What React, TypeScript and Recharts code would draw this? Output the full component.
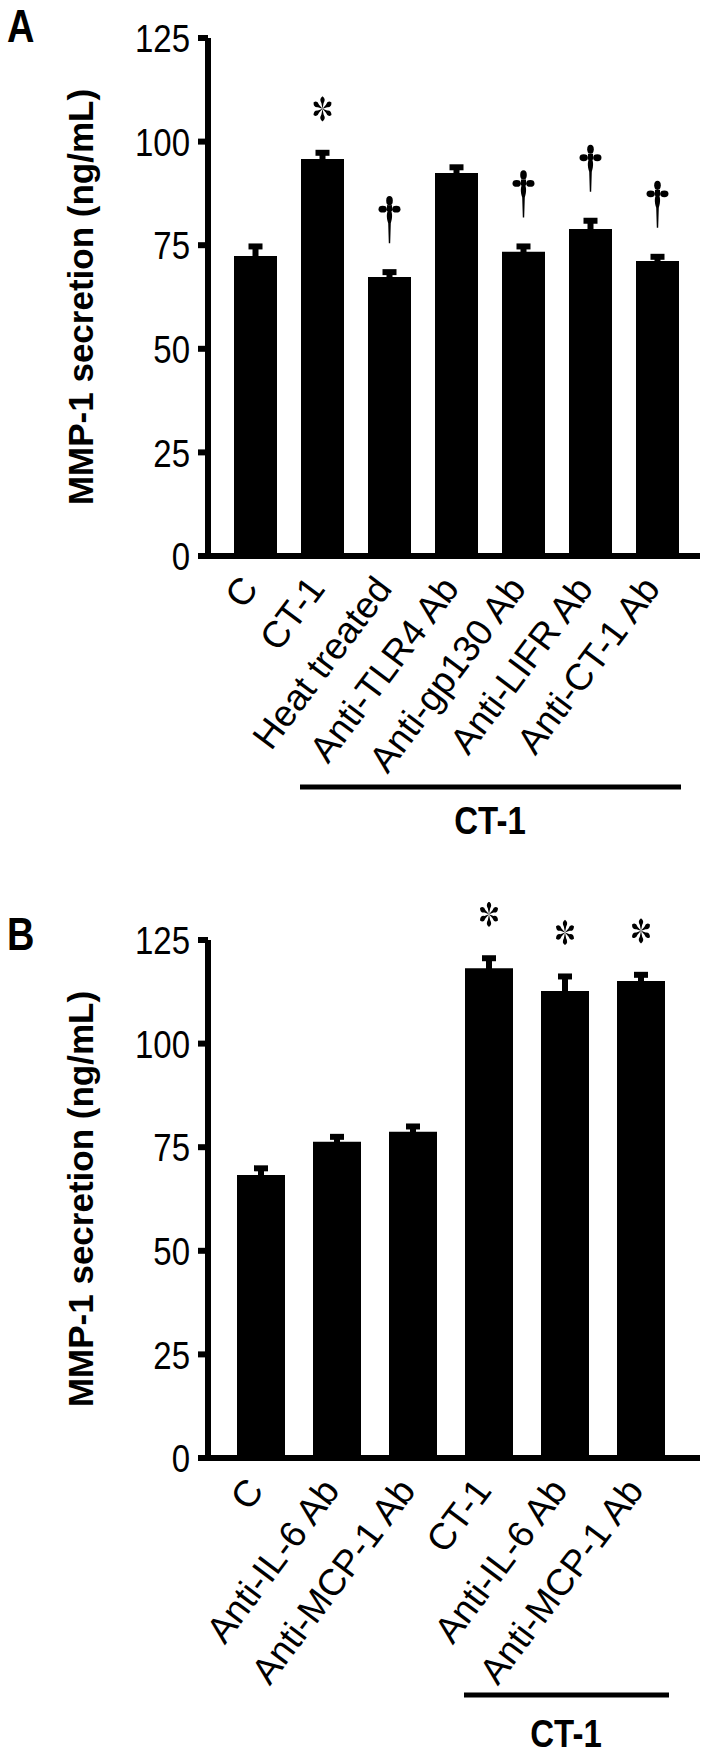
import React from "react";
import { BarChart, Bar, XAxis, YAxis, ErrorBar, LabelList } from "recharts";

const FONT = "'Liberation Sans', Arial, Helvetica, sans-serif";
const SY = 1.2; // upright texts in the original look tall and narrow

// panel A
const catsA = ["C", "CT-1", "Heat treated", "Anti-TLR4 Ab", "Anti-gp130 Ab", "Anti-LIFR Ab", "Anti-CT-1 Ab"];
const meanA = [72.4, 95.8, 67.3, 92.4, 73.4, 78.9, 71.2];
const semA = [2.3, 1.5, 1.2, 1.4, 1.3, 2.0, 1.0];
const sigA = ["", "*", "†", "", "†", "†", "†"];

// panel B
const catsB = ["C", "Anti-IL-6 Ab", "Anti-MCP-1 Ab", "CT-1", "Anti-IL-6 Ab", "Anti-MCP-1 Ab"];
const meanB = [68.3, 76.3, 78.7, 118.2, 112.7, 115.1];
const semB = [1.6, 1.2, 1.3, 2.4, 3.5, 1.5];
const sigB = ["", "", "", "*", "*", "*"];

const yTicks = [0, 25, 50, 75, 100, 125];
const groupLabel = "CT-1";
const yTitle = "MMP-1 secretion (ng/mL)";

const ERR_W = 6;

function Asterisk({ cx, cy, r }: { cx: number; cy: number; r: number }) {
  const w = r * 0.36;
  const d = `M0,0 L${-w * 0.3},${-r * 0.45} Q${-w},${-r * 0.8} 0,${-r} Q${w},${-r * 0.8} ${w * 0.3},${-r * 0.45} Z`;
  return (
    <g transform={`translate(${cx},${cy}) scale(0.9,1.1)`} fill="#000">
      {[0, 60, 120, 180, 240, 300].map((a) => (
        <path key={a} d={d} transform={`rotate(${a})`} />
      ))}
    </g>
  );
}

function Dagger({ cx, bottom }: { cx: number; bottom: number }) {
  const c = bottom - 34;
  return (
    <g transform={`translate(${cx},${c})`} fill="#000">
      <ellipse cx={0} cy={-8.5} rx={3.3} ry={4.6} />
      <ellipse cx={-6.8} cy={0} rx={4.2} ry={3.4} />
      <ellipse cx={6.8} cy={0} rx={4.2} ry={3.4} />
      <rect x={-2.5} y={-4} width={5} height={6} />
      <path d="M0,-2 C3.3,3 3.2,8 1.3,14 L0.7,34 L-0.7,34 L-1.3,14 C-3.2,8 -3.3,3 0,-2 Z" />
    </g>
  );
}

// marker sits above the error cap; px/unit comes from the bar's own height
const renderMark = (p: any) => {
  const { x, y, width, height, value } = p;
  if (!value) return null;
  const [mark, err, v] = String(value).split("|");
  const k = Number(height) / Number(v);
  const capTop = Number(y) - Number(err) * k - ERR_W / 2;
  const cx = Number(x) + Number(width) / 2;
  if (mark === "*") return <Asterisk cx={cx} cy={capTop - 41} r={11.5} />;
  if (mark === "†") return <Dagger cx={cx} bottom={capTop - 26} />;
  return null;
};

const makeTick = (labels: string[]) => (props: any) => {
  const { x, y, payload } = props;
  const px = x + 4;
  const py = y + 33;
  return (
    <text
      transform={`translate(${px},${py}) rotate(-53)`}
      textAnchor="end"
      fontSize={37}
      fontFamily={FONT}
      fill="#000"
    >
      {labels[payload.index]}
    </text>
  );
};

const yTick = (props: any) => {
  const { x, y, payload } = props;
  return (
    <text
      transform={`translate(${x},${y}) scale(1,${SY})`}
      dy="0.36em"
      textAnchor="end"
      fontSize={33}
      fontFamily={FONT}
      fill="#000"
    >
      {payload.value}
    </text>
  );
};

function Panel({
  cats,
  mean,
  sem,
  sig,
  height,
  pad,
  barSize,
}: {
  cats: string[];
  mean: number[];
  sem: number[];
  sig: string[];
  height: number;
  pad: { left: number; right: number };
  barSize: number;
}) {
  const rows = cats.map((c, i) => ({
    key: `c${i}`,
    value: mean[i],
    err: sem[i],
    tag: sig[i] ? `${sig[i]}|${sem[i]}|${mean[i]}` : null,
  }));
  return (
    <BarChart
      width={714}
      height={height}
      data={rows}
      margin={{ top: 38, right: 14, bottom: 0, left: 0 }}
    >
      <XAxis
        dataKey="key"
        interval={0}
        height={height - 556}
        padding={pad}
        tickLine={false}
        tickSize={0}
        tickMargin={0}
        axisLine={{ stroke: "#000", strokeWidth: 6 }}
        tick={makeTick(cats)}
      />
      <YAxis
        width={208}
        domain={[0, 125]}
        ticks={yTicks}
        interval={0}
        tickSize={10}
        tickMargin={8}
        axisLine={{ stroke: "#000", strokeWidth: 6 }}
        tickLine={{ stroke: "#000", strokeWidth: 6 }}
        tick={yTick}
      />
      <Bar dataKey="value" fill="#000" barSize={barSize} isAnimationActive={false}>
        <ErrorBar
          dataKey="err"
          direction="y"
          width={7}
          stroke="#000"
          strokeWidth={ERR_W}
          isAnimationActive={false}
        />
        <LabelList dataKey="tag" content={renderMark} />
      </Bar>
    </BarChart>
  );
}

const txt = { fontFamily: FONT, fill: "#000" } as const;

function Stretched({ x, y, size, anchor, children }: any) {
  return (
    <text
      transform={`translate(${x},${y}) scale(1,${SY})`}
      textAnchor={anchor || "start"}
      fontSize={size}
      fontWeight="bold"
      {...txt}
    >
      {children}
    </text>
  );
}

export default function App() {
  return (
    <div style={{ position: "absolute", left: 0, top: 0, width: 714, height: 1757, background: "#fff" }}>
      <Panel cats={catsA} mean={meanA} sem={semA} sig={sigA} height={902} pad={{ left: 14, right: 9 }} barSize={43} />
      <Panel cats={catsB} mean={meanB} sem={semB} sig={sigB} height={855} pad={{ left: 15, right: 21 }} barSize={48} />
      <svg width={714} height={1757} style={{ position: "absolute", left: 0, top: 0, pointerEvents: "none" }}>
        <Stretched x={7} y={42} size={38}>A</Stretched>
        <Stretched x={7} y={950} size={38}>B</Stretched>
        <text x={80} y={297} transform="rotate(-90, 80, 297)" textAnchor="middle" dominantBaseline="central" fontSize={35} fontWeight="bold" {...txt}>{yTitle}</text>
        <text x={80} y={1199} transform="rotate(-90, 80, 1199)" textAnchor="middle" dominantBaseline="central" fontSize={35} fontWeight="bold" {...txt}>{yTitle}</text>
        <line x1={300} x2={681} y1={787} y2={787} stroke="#000" strokeWidth={5} />
        <Stretched x={490} y={834} size={33} anchor="middle">{groupLabel}</Stretched>
        <line x1={464} x2={669} y1={1695} y2={1695} stroke="#000" strokeWidth={5} />
        <Stretched x={566} y={1747} size={33} anchor="middle">{groupLabel}</Stretched>
      </svg>
    </div>
  );
}
